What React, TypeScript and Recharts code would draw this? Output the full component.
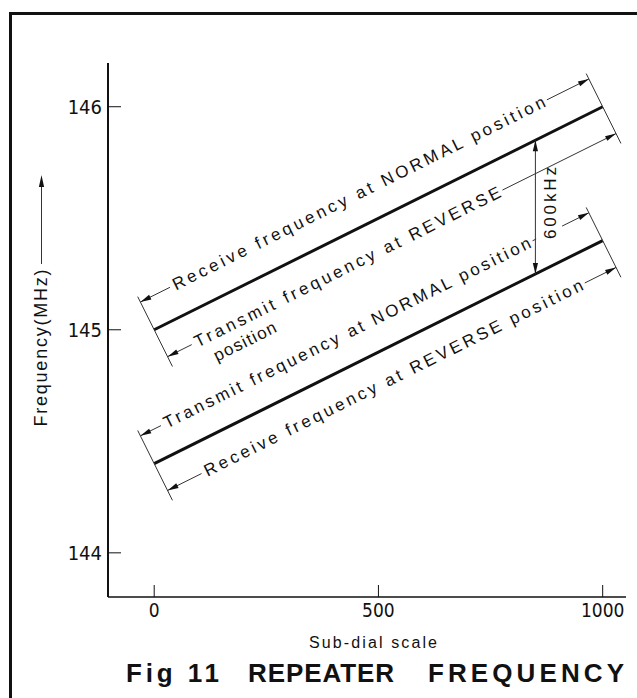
import React from "react"
import { LineChart, Line, XAxis, YAxis, ReferenceLine, ReferenceDot } from "recharts"

// values
const dial = [0, 1000]
const upperMHz = [145.0, 146.0] // receive @ NORMAL, transmit @ REVERSE
const lowerMHz = [144.4, 145.4] // transmit @ NORMAL, receive @ REVERSE
const xTicks = [0, 500, 1000]
const yTicks = [144, 145, 146]
const shiftAt = 850
const shiftText = "600kHz"
const noteTexts = [
  "Receive frequency at NORMAL position",
  "Transmit frequency at REVERSE",
  "Transmit frequency at NORMAL position",
  "Receive frequency at REVERSE position",
]
const noteSecond = "position"

// layout
const W = 637
const H = 698
const M = { top: 63, right: 11, bottom: 71, left: 48 }
const Y_W = 60
const X_H = 30
const X_DOM = [-103, 1052]
const Y_DOM = [143.802, 146.196]
const PW = W - M.left - M.right - Y_W
const PH = H - M.top - M.bottom - X_H
const SX = PW / (X_DOM[1] - X_DOM[0])
const SY = PH / (Y_DOM[1] - Y_DOM[0])
const FONT = "'Liberation Sans', Arial, sans-serif"
const NARROW = "'Liberation Sans Narrow', 'DejaVu Sans Condensed', 'Liberation Sans', sans-serif"
const INK = "#111"

const data = dial.map((d, i) => ({ dial: d, upper: upperMHz[i], lower: lowerMHz[i] }))

type Seg = { x0: number; y0: number; x1: number; y1: number }
const upperSeg: Seg = { x0: dial[0], y0: upperMHz[0], x1: dial[1], y1: upperMHz[1] }
const lowerSeg: Seg = { x0: dial[0], y0: lowerMHz[0], x1: dial[1], y1: lowerMHz[1] }

const geom = (s: Seg) => {
  const dx = (s.x1 - s.x0) * SX
  const dy = (s.y1 - s.y0) * SY
  const len = Math.hypot(dx, dy)
  return { ux: dx / len, uy: dy / len, len, angle: (-Math.atan2(dy, dx) * 180) / Math.PI }
}

// point `along` px from the start of a segment, `off` px to its upper side
const at = (s: Seg, along: number, off: number) => {
  const g = geom(s)
  const px = along * g.ux - off * g.uy
  const py = along * g.uy + off * g.ux
  return { x: s.x0 + px / SX, y: s.y0 + py / SY }
}

const yOn = (s: Seg, x: number) => s.y0 + ((s.y1 - s.y0) * (x - s.x0)) / (s.x1 - s.x0)

const notes = [
  { seg: upperSeg, off: 31, from: 37, to: 451 },
  { seg: upperSeg, off: -30, from: 31, to: 371 },
  { seg: lowerSeg, off: 31, from: 27, to: 435, gap: [442, 471] },
  { seg: lowerSeg, off: -30, from: 42, to: 463 },
]

const arrowShape = (rot: number) => (p: any) => (
  <polygon
    points="0,0 -11,-2.6 -11,2.6"
    transform={`translate(${p.cx},${p.cy}) rotate(${rot})`}
    fill={INK}
  />
)

const textShape = (txt: string, rot: number, len: number, anchor = "start", size = 17) => (p: any) => (
  <text
    x={p.cx}
    y={p.cy}
    transform={`rotate(${rot} ${p.cx} ${p.cy})`}
    textLength={len}
    lengthAdjust="spacing"
    dominantBaseline="central"
    textAnchor={anchor}
    fontSize={size}
    fontFamily={FONT}
    fill={INK}
  >
    {txt}
  </text>
)

const seg = (key: string, a: { x: number; y: number }, b: { x: number; y: number }) => (
  <ReferenceLine key={key} segment={[a, b]} stroke="#333" strokeWidth={1} ifOverflow="visible" />
)

const dot = (key: string, p: { x: number; y: number }, shape: any) => (
  <ReferenceDot key={key} x={p.x} y={p.y} r={1} shape={shape} ifOverflow="visible" />
)

const renderNote = (n: any, i: number) => {
  const g = geom(n.seg)
  const out: any[] = []
  out.push(seg(`nl${i}`, at(n.seg, 0, n.off), at(n.seg, n.from - 4, n.off)))
  if (n.gap) {
    out.push(seg(`nm${i}`, at(n.seg, n.to + 3, n.off), at(n.seg, n.gap[0], n.off)))
    out.push(seg(`nr${i}`, at(n.seg, n.gap[1], n.off), at(n.seg, g.len, n.off)))
  } else {
    out.push(seg(`nr${i}`, at(n.seg, n.to + 3, n.off), at(n.seg, g.len, n.off)))
  }
  out.push(dot(`al${i}`, at(n.seg, 0, n.off), arrowShape(g.angle + 180)))
  out.push(dot(`ar${i}`, at(n.seg, g.len, n.off), arrowShape(g.angle)))
  out.push(dot(`t${i}`, at(n.seg, n.from, n.off), textShape(noteTexts[i], g.angle, n.to - n.from)))
  return out
}

const renderExt = (s: Seg, k: string) => {
  const g = geom(s)
  return [
    seg(`e0${k}`, at(s, 0, 37), at(s, 0, -41)),
    seg(`e1${k}`, at(s, g.len, 37), at(s, g.len, -41)),
  ]
}

const XTick = (p: any) => (
  <g>
    <line x1={p.x} x2={p.x} y1={p.y} y2={p.y - 12} stroke={INK} strokeWidth={1} />
    <text x={p.x} y={p.y + 20} textAnchor="middle" fontSize={19} fontFamily={NARROW} fill={INK}>
      {p.payload.value}
    </text>
  </g>
)

const YTick = (p: any) => (
  <g>
    <line x1={p.x} x2={p.x + 13} y1={p.y} y2={p.y} stroke={INK} strokeWidth={1} />
    <text x={p.x - 6} y={p.y} dy="0.36em" textAnchor="end" fontSize={20} fontFamily={NARROW} fill={INK}>
      {p.payload.value}
    </text>
  </g>
)

const XLabel = () => (
  <text x={373} y={648} textAnchor="middle" fontSize={16} fontFamily={FONT} fill={INK} textLength={128} lengthAdjust="spacing">
    Sub-dial scale
  </text>
)

const YLabel = () => (
  <g>
    <text
      x={41}
      y={348}
      transform="rotate(-90 41 348)"
      textAnchor="middle"
      dominantBaseline="central"
      fontSize={18}
      fontFamily={FONT}
      fill={INK}
      textLength={157}
      lengthAdjust="spacing"
    >
      Frequency(MHz)
    </text>
    <line x1={41.5} x2={41.5} y1={264} y2={184} stroke="#333" strokeWidth={1} />
    <polygon points="41.5,175 38.9,187 44.1,187" fill={INK} />
  </g>
)

export default function App() {
  const g = geom(upperSeg)
  const top = { x: shiftAt, y: yOn(upperSeg, shiftAt) }
  const bot = { x: shiftAt, y: yOn(lowerSeg, shiftAt) }
  const mid = { x: shiftAt + 15 / SX, y: (top.y + bot.y) / 2 + 4 / SY }
  return (
    <div style={{ position: "absolute", left: 0, top: 0, width: W, height: H, background: "#fff", overflow: "hidden" }}>
      <div style={{ position: "absolute", left: 9, top: 12, width: W - 9, height: 3, background: INK }} />
      <div style={{ position: "absolute", left: 9, top: 12, width: 3, height: H - 12, background: INK }} />
      <div style={{ position: "absolute", left: 0, top: 0 }}>
        <LineChart width={W} height={H} data={data} margin={M}>
          <XAxis
            dataKey="dial"
            type="number"
            domain={X_DOM}
            allowDataOverflow
            ticks={xTicks}
            interval={0}
            height={X_H}
            tickSize={0}
            tickMargin={0}
            tick={XTick}
            axisLine={{ stroke: INK, strokeWidth: 1.5 }}
            label={XLabel}
          />
          <YAxis
            type="number"
            domain={Y_DOM}
            allowDataOverflow
            ticks={yTicks}
            interval={0}
            width={Y_W}
            tickSize={0}
            tickMargin={0}
            tick={YTick}
            axisLine={{ stroke: INK, strokeWidth: 2 }}
            label={YLabel}
          />
          <Line dataKey="upper" stroke={INK} strokeWidth={3} dot={false} isAnimationActive={false} />
          <Line dataKey="lower" stroke={INK} strokeWidth={3} dot={false} isAnimationActive={false} />
          {renderExt(upperSeg, "u")}
          {renderExt(lowerSeg, "l")}
          {notes.map(renderNote)}
          {dot("p2", at(upperSeg, 42, -51), textShape(noteSecond, g.angle, 68))}
          {seg("v", top, bot)}
          {dot("vt", top, arrowShape(-90))}
          {dot("vb", bot, arrowShape(90))}
          {dot("vl", mid, textShape(shiftText, -90, 72, "middle"))}
        </LineChart>
      </div>
      <svg style={{ position: "absolute", left: 0, top: 0, pointerEvents: "none" }} width={W} height={H}>
        <g fontFamily="'Liberation Sans', Arial, sans-serif" fontWeight="bold" fontSize={26} fill={INK}>
          <text x={126} y={682} textLength={93} lengthAdjust="spacing">Fig 11</text>
          <text x={248} y={682} textLength={146} lengthAdjust="spacing">REPEATER</text>
          <text x={428} y={682} textLength={196} lengthAdjust="spacing">FREQUENCY</text>
        </g>
      </svg>
    </div>
  )
}
